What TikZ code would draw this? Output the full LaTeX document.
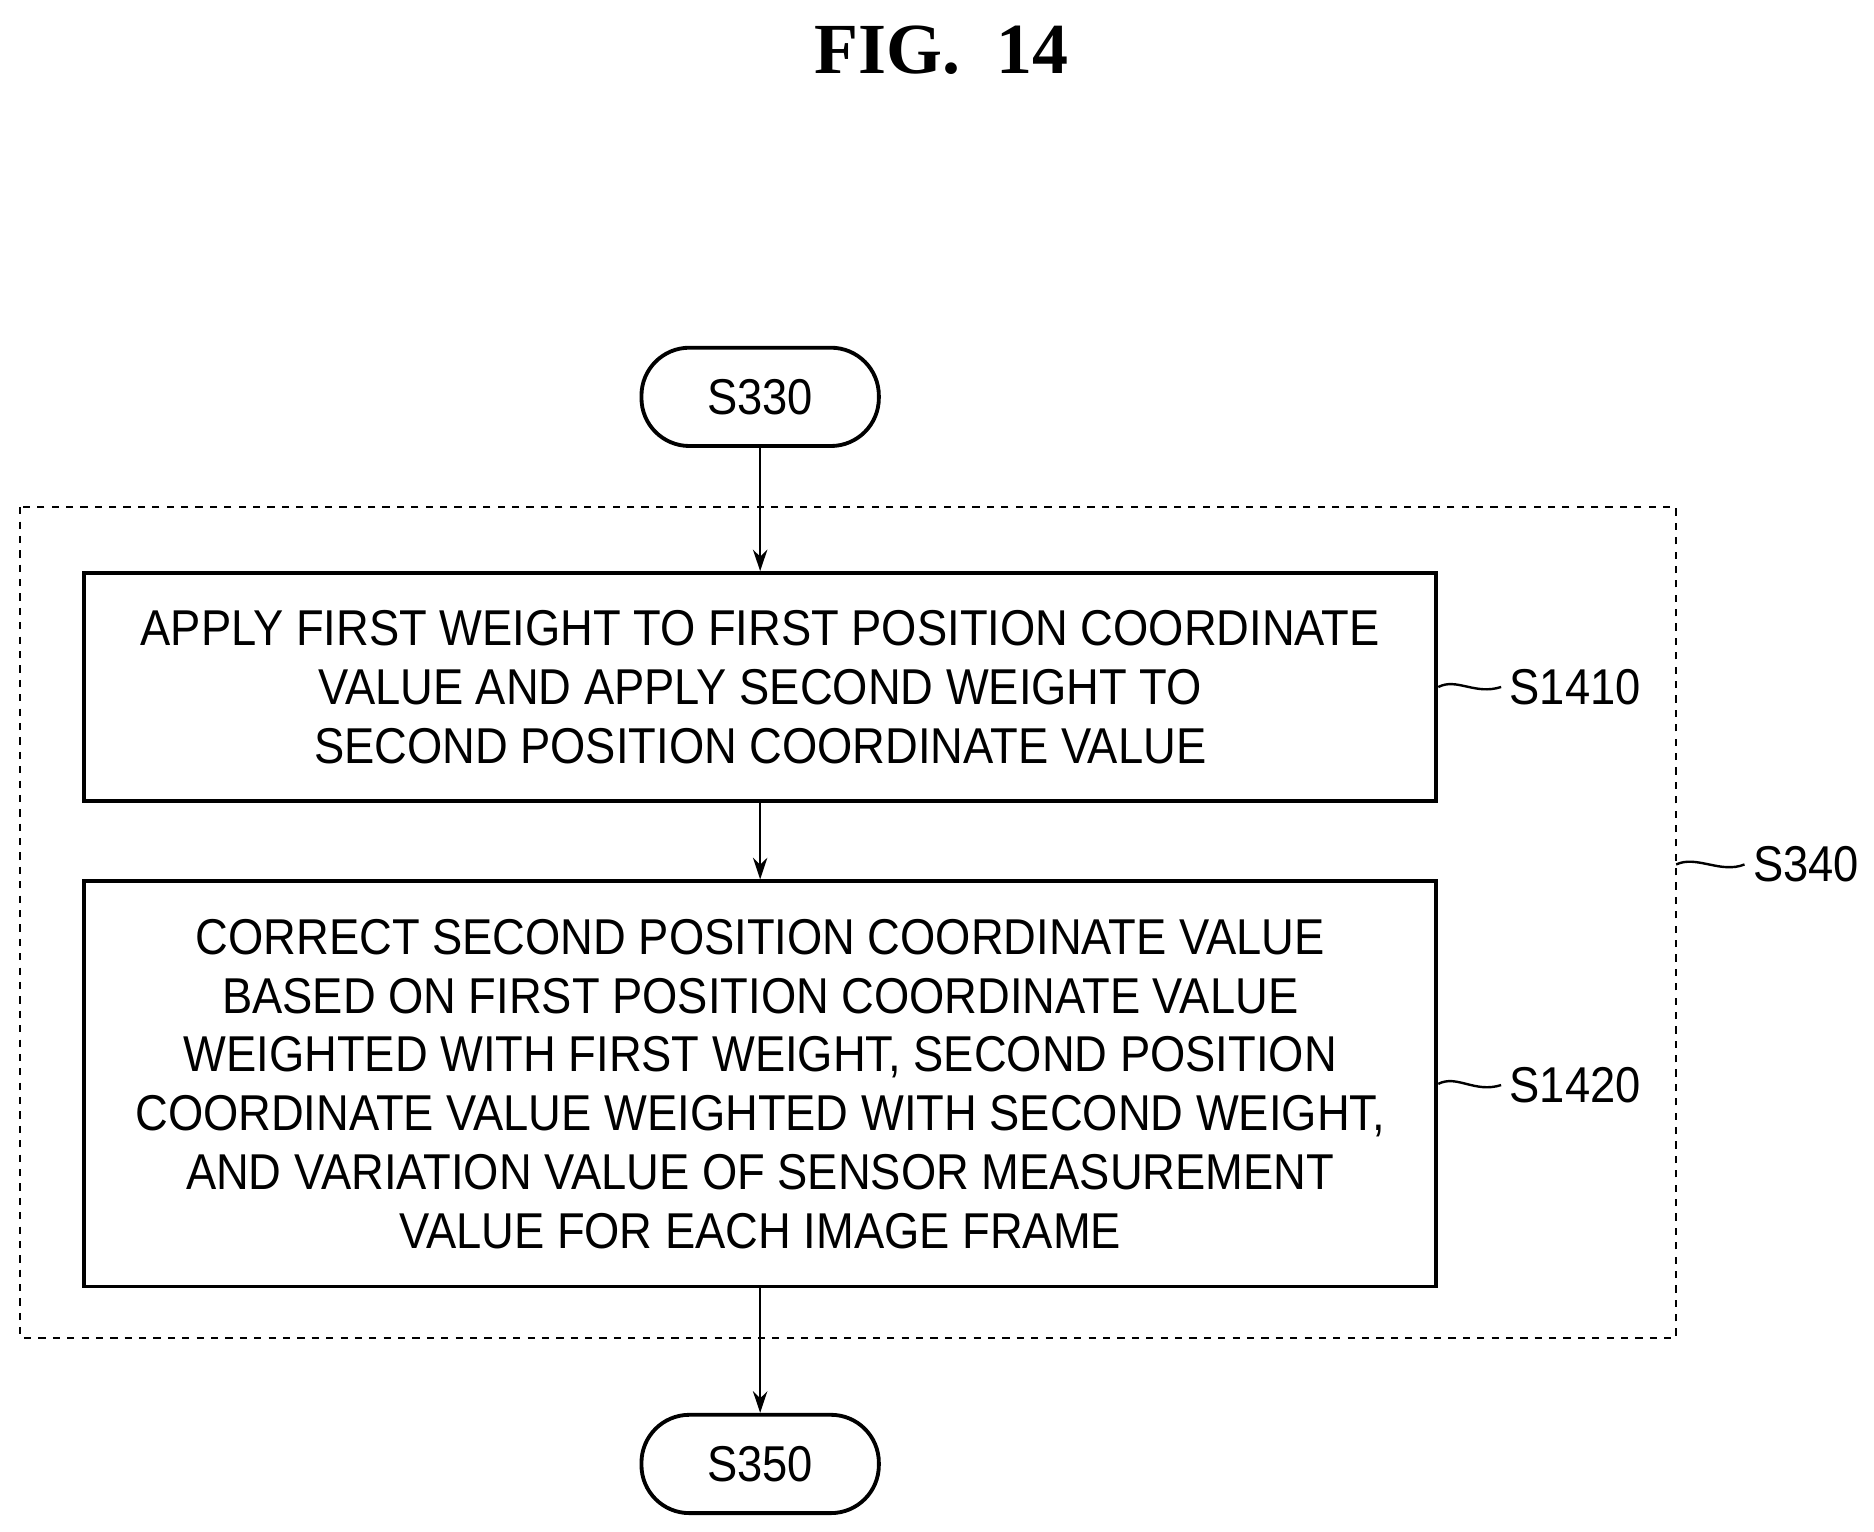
\documentclass[tikz,border=0pt]{standalone}
\usepackage{fontspec}
\usetikzlibrary{arrows.meta}
\setmainfont{Liberation Sans}[FakeStretch=0.9]
\newfontfamily\titlefont{Liberation Serif}
\begin{document}
\begin{tikzpicture}[x=0.5pt,y=-0.5pt,
  txt/.style={font=\fontsize{21}{24.5}\selectfont,align=center},
  box/.style={draw,line width=1.6pt,minimum width=564pt,inner sep=0pt},
  term/.style={draw,line width=1.6pt,rounded corners=20pt,minimum width=99pt,minimum height=41pt,txt},
  arr/.style={-{Stealth[length=9pt,width=6pt]},line width=1pt},
  sq/.style={line width=1pt}]
\useasboundingbox (0,0) rectangle (1563,1277);
\node[font=\titlefont\bfseries\fontsize{30}{30}\selectfont] (title) at (785,42) {FIG.\ \ 14};
\node[term] (s330) at (634,331) {S330};
\node[term] (s350) at (634,1221) {S350};
\draw[dashed,line width=0.8pt] (17,423) rectangle (1398,1116);
\coordinate (dr) at (1398,721);
\node[box,minimum height=95pt,txt] (b1) at (634,573) {APPLY FIRST WEIGHT TO FIRST POSITION COORDINATE\\VALUE AND APPLY SECOND WEIGHT TO\\SECOND POSITION COORDINATE VALUE};
\node[box,minimum height=169pt,txt] (b2) at (634,904) {CORRECT SECOND POSITION COORDINATE VALUE\\BASED ON FIRST POSITION COORDINATE VALUE\\WEIGHTED WITH FIRST WEIGHT, SECOND POSITION\\COORDINATE VALUE WEIGHTED WITH SECOND WEIGHT,\\AND VARIATION VALUE OF SENSOR MEASUREMENT\\VALUE FOR EACH IMAGE FRAME};
\draw[arr] (s330) -- (b1);
\draw[arr] (b1) -- (b2);
\draw[arr] (b2) -- (s350);
\node[txt,anchor=west] (l1) at (1252,573) {S1410};
\node[txt,anchor=west] (l2) at (1252,905) {S1420};
\node[txt,anchor=west] (l3) at (1455,721) {S340};
\draw[sq] (b1.east) .. controls (1215,565) and (1230,580) .. (l1.west);
\draw[sq] (b2.east) .. controls (1215,896) and (1230,912) .. (l2.west);
\draw[sq] (dr) .. controls (1415,713) and (1435,729) .. (l3.west);
\end{tikzpicture}
\end{document}
